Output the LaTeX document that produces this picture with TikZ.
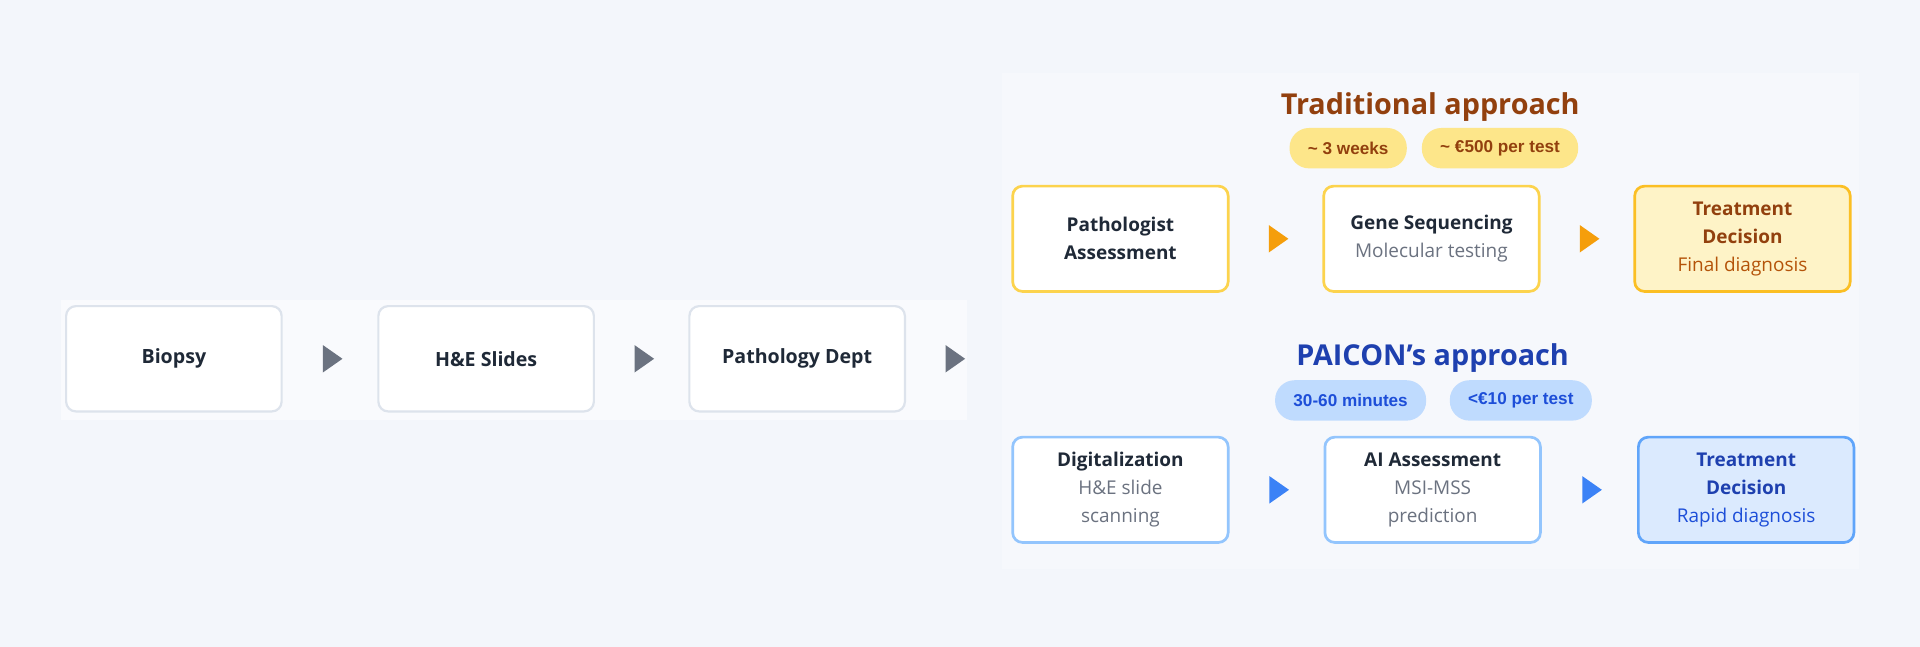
\documentclass[tikz,border=0pt]{standalone}
\usepackage{fontspec}
\setmainfont{Open Sans}
\newfontfamily\pillfont{Liberation Sans}
\usetikzlibrary{calc,shapes.geometric}
\definecolor{bg}{HTML}{F3F6FB}
\definecolor{panel}{HTML}{F6F8FC}
\definecolor{dark}{HTML}{1F2937}
\definecolor{grayt}{HTML}{6B7280}
\definecolor{gbord}{HTML}{DDE3EC}
\definecolor{brown}{HTML}{92400E}
\definecolor{brown2}{HTML}{B45309}
\definecolor{ybord}{HTML}{FCD34D}
\definecolor{ybord2}{HTML}{FBBF24}
\definecolor{yfill}{HTML}{FEF3C7}
\definecolor{ypill}{HTML}{FDE68A}
\definecolor{orng}{HTML}{F59E0B}
\definecolor{navy}{HTML}{1E40AF}
\definecolor{blue2}{HTML}{1D4ED8}
\definecolor{bbord}{HTML}{93C5FD}
\definecolor{bbord2}{HTML}{60A5FA}
\definecolor{bfill}{HTML}{DBEAFE}
\definecolor{bpill}{HTML}{BFDBFE}
\definecolor{barrow}{HTML}{3B82F6}
\definecolor{garrow}{HTML}{6B7280}
\begin{document}
\begin{tikzpicture}[x=1pt,y=-1pt,
  box/.style={draw=#1,line width=2.2pt,rounded corners=8pt,fill=white,minimum width=176pt,minimum height=86pt,align=center,text=dark,font=\fontsize{15.5}{23}\selectfont},
  gbox/.style={box=gbord,line width=1.8pt,font=\bfseries\fontsize{16}{23}\selectfont},
  pill/.style={rounded corners=16pt,minimum height=33pt,inner xsep=15pt,font=\pillfont\bfseries\fontsize{14}{16}\selectfont},
  tri/.style={isosceles triangle,isosceles triangle apex angle=70,fill=#1,inner sep=0pt,minimum height=16pt,minimum width=21pt},
  ttl/.style={font=\bfseries\fontsize{23.5}{28}\selectfont}]
\fill[bg] (0,0) rectangle (1568,528);
\useasboundingbox (0,0) rectangle (1568,528);
\fill[white,opacity=0.5] (50,245) rectangle (790,343);
\fill[panel] (818,60) rectangle (1518,465);
% left chain
\node[gbox] (b1) at (142,293) {Biopsy};
\node[gbox] (b2) at (397,293) {H\&E Slides};
\node[gbox] (b3) at (651,293) {Pathology Dept};
\node[tri=garrow] (a1) at ($(b1.east)!0.5!(b2.west)$) {};
\node[tri=garrow] (a2) at ($(b2.east)!0.5!(b3.west)$) {};
\node[tri=garrow] (a3) at (778,293) {};
% traditional
\node[ttl,text=brown] (t1) at (1168,87) {Traditional approach};
\node[pill,fill=ypill,text=brown] (p1) at (1101,121) {\textasciitilde{} 3 weeks};
\node[pill,fill=ypill,text=brown] (p2) at (1225,121) {\textasciitilde{} €500 per test};
\node[box=ybord] (c1) at (915,195) {\textbf{Pathologist}\\\textbf{Assessment}};
\node[box=ybord] (c2) at (1169,195) {\textbf{Gene Sequencing}\\\textcolor{grayt}{Molecular testing}};
\node[box=ybord2,fill=yfill,text=brown] (c3) at (1423,195) {\textbf{Treatment}\\\textbf{Decision}\\\textcolor{brown2}{Final diagnosis}};
\node[tri=orng] (o1) at ($(c1.east)!0.5!(c2.west)$) {};
\node[tri=orng] (o2) at ($(c2.east)!0.5!(c3.west)$) {};
% paicon
\node[ttl,text=navy] (t2) at (1170,292) {PAICON's approach};
\node[pill,fill=bpill,text=blue2] (q1) at (1103,327) {30-60 minutes};
\node[pill,fill=bpill,text=blue2] (q2) at (1242,327) {<€10 per test};
\node[box=bbord] (d1) at (915,400) {\textbf{Digitalization}\\\textcolor{grayt}{H\&E slide}\\\textcolor{grayt}{scanning}};
\node[box=bbord] (d2) at (1170,400) {\textbf{AI Assessment}\\\textcolor{grayt}{MSI-MSS}\\\textcolor{grayt}{prediction}};
\node[box=bbord2,fill=bfill,text=navy] (d3) at (1426,400) {\textbf{Treatment}\\\textbf{Decision}\\\textcolor{blue2}{Rapid diagnosis}};
\node[tri=barrow] (e1) at ($(d1.east)!0.5!(d2.west)$) {};
\node[tri=barrow] (e2) at ($(d2.east)!0.5!(d3.west)$) {};
\end{tikzpicture}
\end{document}
